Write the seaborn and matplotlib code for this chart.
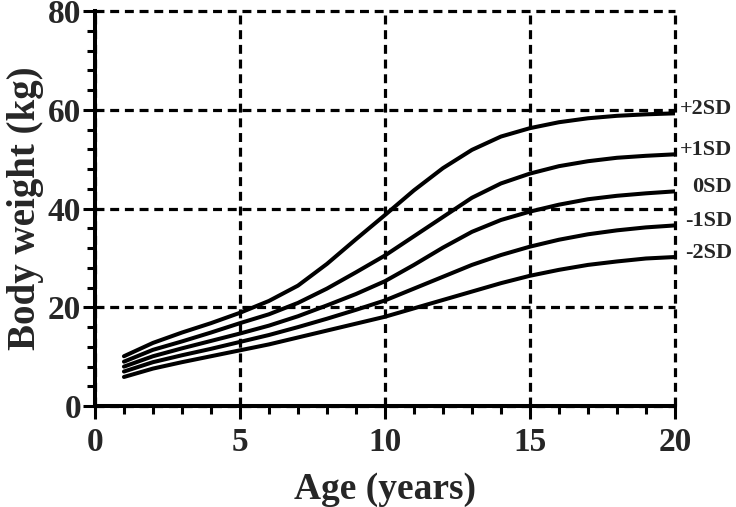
import matplotlib
matplotlib.use('Agg')
import matplotlib.pyplot as plt
from matplotlib.ticker import MultipleLocator
import seaborn as sns
import pandas as pd

# growth reference curves, body weight (kg) by age (years)
ages = list(range(1, 21))
plus2 = [10.1, 12.8, 14.9, 16.8, 18.9, 21.3, 24.4, 28.8, 33.8, 38.7,
         43.7, 48.2, 51.9, 54.6, 56.3, 57.5, 58.3, 58.8, 59.1, 59.3]
plus1 = [9.0, 11.4, 13.1, 14.9, 16.8, 18.6, 20.9, 23.8, 27.1, 30.5,
         34.4, 38.3, 42.2, 45.1, 47.1, 48.6, 49.6, 50.3, 50.7, 51.0]
zero = [8.0, 10.1, 11.7, 13.2, 14.7, 16.3, 18.2, 20.4, 22.7, 25.3,
        28.6, 32.1, 35.3, 37.7, 39.4, 40.8, 41.9, 42.6, 43.1, 43.5]
minus1 = [7.0, 8.9, 10.3, 11.6, 13.0, 14.4, 16.0, 17.7, 19.5, 21.4,
          23.8, 26.2, 28.6, 30.6, 32.3, 33.7, 34.8, 35.6, 36.2, 36.6]
minus2 = [5.9, 7.6, 8.9, 10.1, 11.3, 12.5, 13.9, 15.3, 16.7, 18.1,
          19.8, 21.5, 23.2, 24.9, 26.4, 27.6, 28.6, 29.3, 29.9, 30.2]
curve_names = ['+2SD', '+1SD', '0SD', '-1SD', '-2SD']
curves = [plus2, plus1, zero, minus1, minus2]

rows = []
for name, vals in zip(curve_names, curves):
    for a, w in zip(ages, vals):
        rows.append((name, a, w))
df = pd.DataFrame(rows, columns=['sd', 'age', 'weight'])

sns.set_style('white')
plt.rcParams['font.family'] = ['Liberation Serif', 'DejaVu Serif']
plt.rcParams['font.weight'] = 'bold'

fig = plt.figure(figsize=(7.36, 5.07), dpi=100)
ax = fig.add_axes([0.129, 0.199, 0.788, 0.779])

sns.lineplot(data=df, x='age', y='weight', hue='sd', hue_order=curve_names,
             palette=['black'] * 5, linewidth=2.9, legend=False, ax=ax, zorder=3)

ax.set_xlim(0, 20)
ax.set_ylim(0, 80)
ax.xaxis.set_major_locator(MultipleLocator(5))
ax.xaxis.set_minor_locator(MultipleLocator(1))
ax.yaxis.set_major_locator(MultipleLocator(20))
ax.yaxis.set_minor_locator(MultipleLocator(4))

ax.grid(True, which='major', color='black', linewidth=2.3, linestyle=(0, (2.8, 1.8)))
for gl in ax.get_xgridlines() + ax.get_ygridlines():
    gl.set_clip_on(False)
ax.set_axisbelow(True)

sns.despine(ax=ax)
for side in ['left', 'bottom']:
    ax.spines[side].set_linewidth(2.9)
    ax.spines[side].set_color('black')

ax.tick_params(which='major', direction='out', length=9, width=2.2,
               labelsize=24, color='black', left=True, bottom=True)
ax.tick_params(which='minor', direction='out', length=6, width=2.2,
               color='black', left=True, bottom=True)
ax.tick_params(axis='x', which='major', pad=6)
ax.tick_params(axis='y', which='major', pad=1)
for lab in ax.get_xticklabels() + ax.get_yticklabels():
    lab.set_fontweight('bold')

ax.set_xlabel('Age (years)', fontsize=27, fontweight='bold', labelpad=10)
ax.set_ylabel('Body weight (kg)', fontsize=28, fontweight='bold', labelpad=3)

for name, vals in zip(curve_names, curves):
    ax.text(21.97, vals[-1] + 0.8, name, ha='right', va='center',
            fontsize=16, fontweight='bold', clip_on=False)

fig.savefig('out.png', dpi=100)
